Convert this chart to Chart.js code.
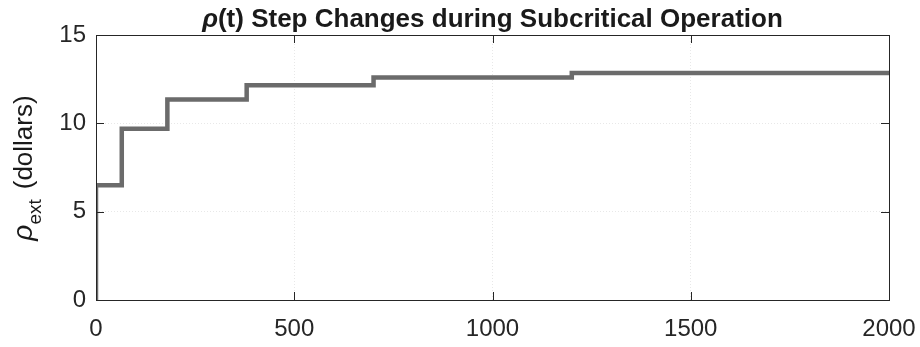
<!DOCTYPE html>
<html><head><meta charset="utf-8">
<script src="https://cdn.jsdelivr.net/npm/chart.js@4/dist/chart.umd.min.js"></script>
<style>html,body{margin:0;padding:0;background:#fff}#wrap{width:920px;height:347px;position:relative}</style>
</head><body><div id="wrap"><canvas id="c"></canvas></div>
<script>
const times = [0, 0, 65, 180, 380, 700, 1200, 2000];
const rhoDollars = [0, 6.5, 9.7, 11.35, 12.15, 12.6, 12.85, 12.85];
const xTicks = [0, 500, 1000, 1500, 2000];
const yTicks = [0, 5, 10, 15];
const titleMain = "(t) Step Changes during Subcritical Operation";

const FONT = "'Liberation Sans', Arial, sans-serif";
const decor = {
  id: 'decor',
  afterDraw(chart) {
    const {ctx, chartArea: a, scales: {x, y}} = chart;
    ctx.save();
    ctx.strokeStyle = '#262626'; ctx.lineWidth = 1;
    ctx.strokeRect(a.left + 0.5, a.top + 0.5, a.right - a.left, a.bottom - a.top);
    ctx.beginPath();
    xTicks.forEach(v => { const px = Math.round(x.getPixelForValue(v)) + 0.5;
      ctx.moveTo(px, a.bottom); ctx.lineTo(px, a.bottom - 8);
      ctx.moveTo(px, a.top); ctx.lineTo(px, a.top + 8); });
    yTicks.forEach(v => { const py = Math.round(y.getPixelForValue(v)) + 0.5;
      ctx.moveTo(a.left, py); ctx.lineTo(a.left + 8, py);
      ctx.moveTo(a.right, py); ctx.lineTo(a.right - 8, py); });
    ctx.stroke();
    // title
    ctx.fillStyle = '#1a1a1a';
    ctx.textBaseline = 'alphabetic';
    ctx.font = "italic bold 26px " + FONT;
    const w1 = ctx.measureText('ρ').width;
    ctx.font = "bold 26px " + FONT;
    const w2 = ctx.measureText(titleMain).width;
    const cx = (a.left + a.right) / 2;
    let sx = cx - (w1 + w2) / 2;
    ctx.font = "italic bold 26px " + FONT; ctx.fillText('ρ', sx, 27);
    ctx.font = "bold 26px " + FONT; ctx.fillText(titleMain, sx + w1, 27);
    // y label
    ctx.translate(32, 168);
    ctx.rotate(-Math.PI / 2);
    ctx.font = "italic 28px " + FONT;
    const p1 = ctx.measureText('ρ').width;
    ctx.font = "19px " + FONT;
    const p2 = ctx.measureText('ext').width;
    ctx.font = "26px " + FONT;
    const gap = 10;
    const p3 = ctx.measureText('(dollars)').width;
    let lx = -(p1 + p2 + gap + p3) / 2;
    ctx.font = "italic 28px " + FONT; ctx.fillText('ρ', lx, 0);
    ctx.font = "19px " + FONT; ctx.fillText('ext', lx + p1, 9);
    ctx.font = "26px " + FONT; ctx.fillText('(dollars)', lx + p1 + p2 + gap, 0);
    ctx.restore();
  }
};

new Chart(document.getElementById('c'), {
  type: 'line',
  data: { datasets: [{
    data: times.map((t, i) => ({x: t, y: rhoDollars[i]})),
    stepped: true, borderColor: '#6b6b6b', borderWidth: 4.5,
    pointRadius: 0, fill: false, borderCapStyle: 'butt', borderJoinStyle: 'miter'
  }]},
  options: {
    responsive: true, maintainAspectRatio: false, animation: false,
    layout: { padding: { left: 0, right: 31, top: 35, bottom: 0 } },
    plugins: { legend: { display: false }, tooltip: { enabled: false }, title: { display: false } },
    scales: {
      x: { type: 'linear', min: 0, max: 2000,
        afterBuildTicks: s => { s.ticks = xTicks.map(v => ({value: v})); },
        ticks: { color: '#262626', font: { family: FONT, size: 24 }, padding: 15, maxRotation: 0,
          callback: v => String(v) },
        grid: { color: '#e8e8e8', drawTicks: false, lineWidth: 1 },
        border: { display: false, dash: [1, 2] },
        afterFit: s => { s.height = 47; s.paddingLeft = 0; s.paddingRight = 0; } },
      y: { min: 0, max: 15,
        afterBuildTicks: s => { s.ticks = yTicks.map(v => ({value: v})); },
        ticks: { color: '#262626', font: { family: FONT, size: 24 }, padding: 10,
          callback: v => String(v) },
        grid: { color: '#e8e8e8', drawTicks: false, lineWidth: 1 },
        border: { display: false, dash: [1, 2] },
        afterFit: s => { s.width = 96; s.paddingTop = 0; s.paddingBottom = 0; } }
    }
  },
  plugins: [decor]
});
</script></body></html>
